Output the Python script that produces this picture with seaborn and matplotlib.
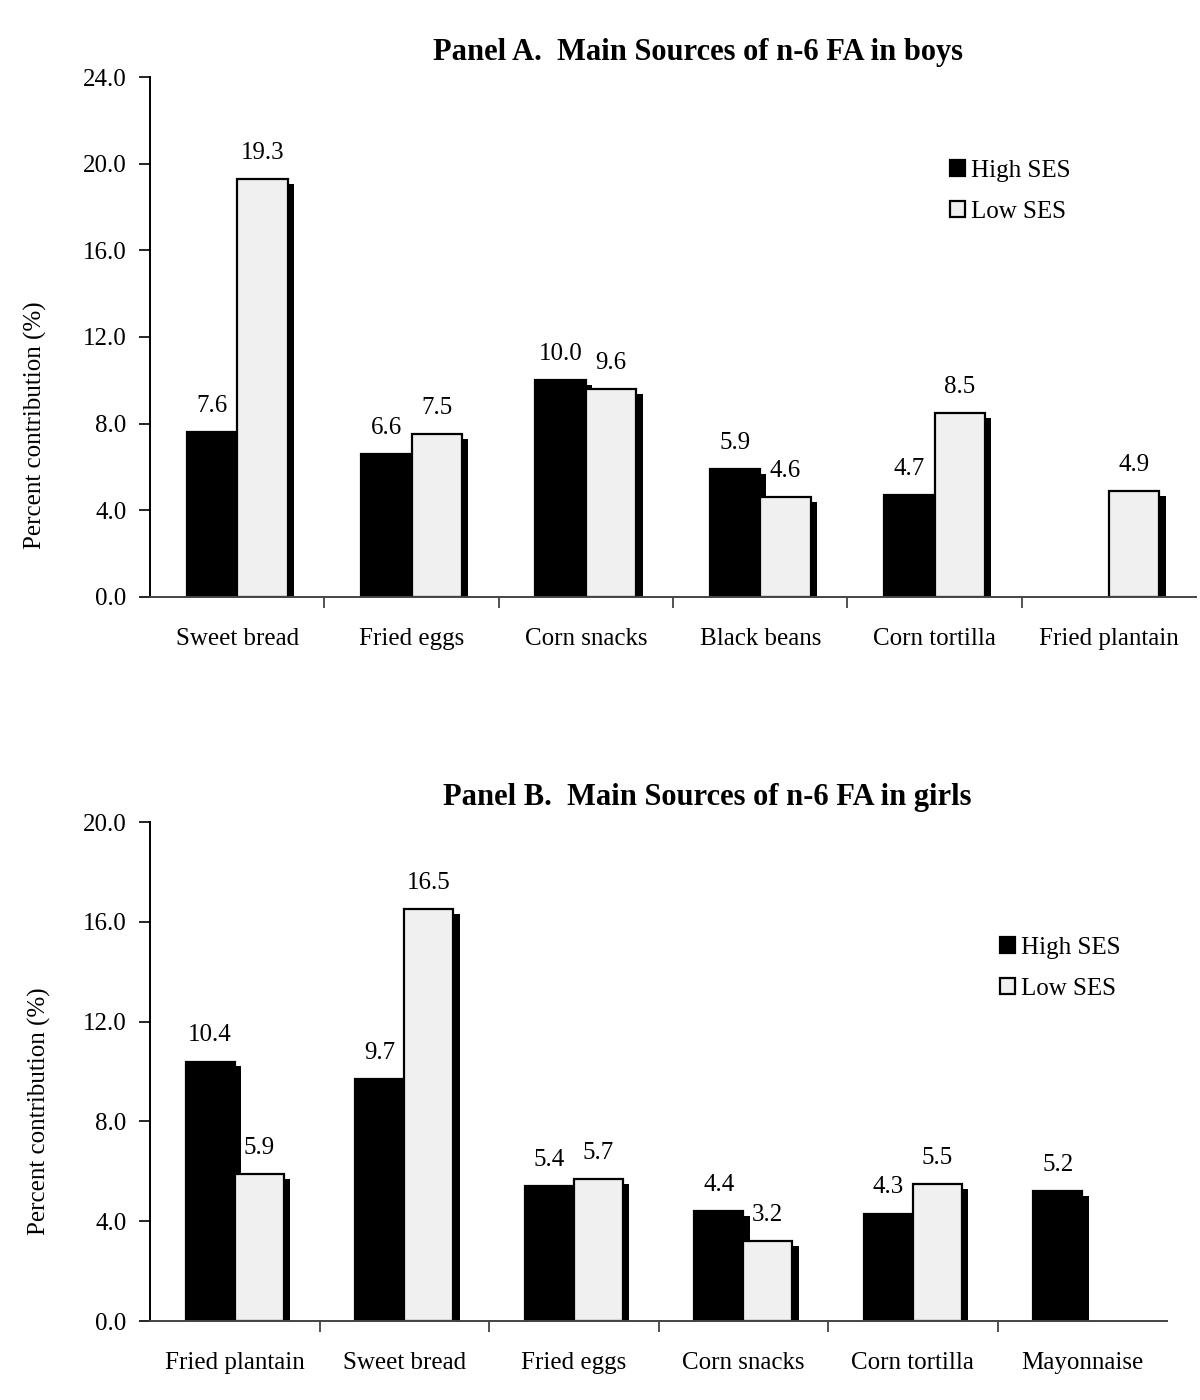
import numpy as np
import pandas as pd
import matplotlib
matplotlib.use("Agg")
import matplotlib.pyplot as plt
import matplotlib.patheffects as pe
from matplotlib.patches import Patch
from matplotlib.ticker import FixedLocator, FormatStrFormatter
import seaborn as sns

# ---------------- data ----------------
groups = ["High SES", "Low SES"]

boys_foods = ["Sweet bread", "Fried eggs", "Corn snacks", "Black beans", "Corn tortilla", "Fried plantain"]
boys_high = [7.6, 6.6, 10.0, 5.9, 4.7, np.nan]
boys_low = [19.3, 7.5, 9.6, 4.6, 8.5, 4.9]

girls_foods = ["Fried plantain", "Sweet bread", "Fried eggs", "Corn snacks", "Corn tortilla", "Mayonnaise"]
girls_high = [10.4, 9.7, 5.4, 4.4, 4.3, 5.2]
girls_low = [5.9, 16.5, 5.7, 3.2, 5.5, np.nan]

title_a = "Panel A.  Main Sources of n-6 FA in boys"
title_b = "Panel B.  Main Sources of n-6 FA in girls"
ylabel = "Percent contribution (%)"
yticks_a = [0, 4, 8, 12, 16, 20, 24]
yticks_b = [0, 4, 8, 12, 16, 20]

colors = {"High SES": "black", "Low SES": "#F0F0F0"}

# ---------------- style ----------------
sns.set_theme(style="white")
plt.rcParams["font.family"] = ["Liberation Serif", "DejaVu Serif"]
plt.rcParams["text.color"] = "black"
plt.rcParams["axes.labelcolor"] = "black"
plt.rcParams["xtick.color"] = "black"
plt.rcParams["ytick.color"] = "black"

FS = 18

fig = plt.figure(figsize=(12, 14), dpi=100)
ax_a = fig.add_axes([0.125, 0.5736, 0.8717, 0.3714])
ax_b = fig.add_axes([0.125, 0.0564, 0.8475, 0.3564])


def panel(ax, foods, high, low, yticks, title, title_x, ylab_x, ylab_y, leg_xy):
    df = pd.DataFrame({
        "food": foods * 2,
        "ses": ["High SES"] * len(foods) + ["Low SES"] * len(foods),
        "value": list(high) + list(low),
    })
    sns.barplot(data=df, x="food", y="value", hue="ses", order=foods,
                hue_order=groups, palette=colors, width=0.58,
                edgecolor="black", linewidth=1.6, errorbar=None,
                legend=False, ax=ax)
    shadow = [pe.SimplePatchShadow(offset=(4.5, -3.5), shadow_rgbFace="black", alpha=1.0),
              pe.Normal()]
    for p in ax.patches:
        p.set_path_effects(shadow)
    for cont in ax.containers:
        ax.bar_label(cont, fmt="%.1f", padding=11, fontsize=FS)

    ax.set_xlim(-0.5, len(foods) - 0.5)
    ax.set_ylim(yticks[0], yticks[-1])
    ax.set_yticks(yticks)
    ax.yaxis.set_major_formatter(FormatStrFormatter("%.1f"))
    ax.tick_params(axis="y", which="major", direction="out", length=8, width=1.2,
                   left=True, labelsize=FS, pad=9)
    ax.tick_params(axis="x", which="major", length=0, labelsize=FS, pad=22)
    ax.xaxis.set_minor_locator(FixedLocator(np.arange(0.5, len(foods) - 1, 1.0)))
    ax.tick_params(axis="x", which="minor", direction="out", length=8, width=1.2,
                   bottom=True, color="#333333")
    for s in ["top", "right"]:
        ax.spines[s].set_visible(False)
    ax.spines["left"].set_color("black")
    ax.spines["left"].set_linewidth(1.4)
    ax.spines["bottom"].set_color("#444444")
    ax.spines["bottom"].set_linewidth(1.4)
    ax.set_xlabel("")
    ax.set_ylabel(ylabel, fontsize=FS)
    ax.yaxis.set_label_coords(ylab_x, ylab_y)
    ax.set_title(title, fontsize=22, fontweight="bold", x=title_x, pad=12)

    handles = [Patch(facecolor=colors[g], edgecolor="black", linewidth=1.6, label=g)
               for g in groups]
    ax.legend(handles=handles, loc="upper left", bbox_to_anchor=leg_xy,
              frameon=False, fontsize=FS, handlelength=0.6, handleheight=0.6,
              handletextpad=0.25, labelspacing=0.75, borderaxespad=0)


panel(ax_a, boys_foods, boys_high, boys_low, yticks_a, title_a, 0.524, -0.098, 0.33, (0.755, 0.86))
panel(ax_b, girls_foods, girls_high, girls_low, yticks_b, title_b, 0.548, -0.097, 0.42, (0.826, 0.79))

fig.savefig("out.png", dpi=100)
